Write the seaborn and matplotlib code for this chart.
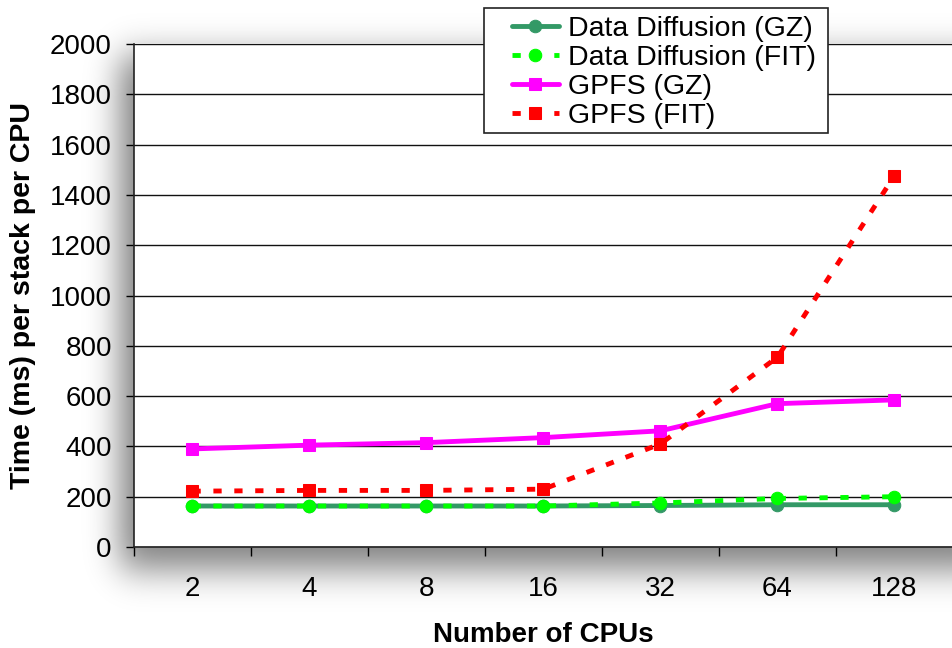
import math
import numpy as np
import pandas as pd
import seaborn as sns
import matplotlib.pyplot as plt
from matplotlib.patches import Rectangle

cpus = ["2", "4", "8", "16", "32", "64", "128"]
dd_gz = [163, 163, 163, 163, 165, 168, 168]
dd_fit = [163, 163, 163, 163, 175, 193, 200]
gpfs_gz = [390, 405, 415, 435, 462, 570, 585]
gpfs_fit = [222, 225, 225, 230, 410, 755, 1477]

sns.set_theme(style="white")
plt.rcParams['font.family'] = ['Liberation Sans', 'DejaVu Sans']
plt.rcParams.update({"text.color": "black", "axes.labelcolor": "black",
                     "xtick.color": "black", "ytick.color": "black"})

df = pd.DataFrame({"pos": np.arange(len(cpus)), "dd_gz": dd_gz, "dd_fit": dd_fit,
                   "gpfs_gz": gpfs_gz, "gpfs_fit": gpfs_fit})

W, H = 953, 648
L, R, T, B = 134, 953, 44, 547
fig = plt.figure(figsize=(W / 100, H / 100), dpi=100)

# soft drop shadow of the plot area (down-left), like the Excel chart
erf = np.vectorize(math.erf)
def soft(coord, lo, hi, s):
    return 0.5 * (erf((coord - lo) / (s * 1.414)) - erf((coord - hi) / (s * 1.414)))
xs = np.arange(W) + 0.5
ys = np.arange(H) + 0.5
sx = soft(xs, L - 14, R + 40, 16)
sy = soft(ys, T + 12, B + 22, 18)
alpha = 0.5 * np.outer(sy, sx)
shadow = np.zeros((H, W, 4))
shadow[..., 3] = alpha
fig.figimage(shadow, 0, 0, origin="upper", zorder=0)

ax = fig.add_axes([L / W, 1 - B / H, (R - L) / W, (B - T) / H])
ax.set_zorder(2)
ax.set_facecolor("white")

sns.lineplot(data=df, x="pos", y="dd_gz", ax=ax, color="#339966", lw=3.5,
             marker="o", ms=9, mec="#339966", label="Data Diffusion (GZ)")
sns.lineplot(data=df, x="pos", y="dd_fit", ax=ax, color="#00ff00", lw=3.5,
             marker="o", ms=9, mec="#00ff00", label="Data Diffusion (FIT)")
sns.lineplot(data=df, x="pos", y="gpfs_gz", ax=ax, color="#ff00ff", lw=3.5,
             marker="s", ms=9, mec="#ff00ff", label="GPFS (GZ)")
sns.lineplot(data=df, x="pos", y="gpfs_fit", ax=ax, color="#ff0000", lw=3.5,
             marker="s", ms=9, mec="#ff0000", label="GPFS (FIT)")
ax.lines[1].set_dashes([1.7, 2.6])
ax.lines[3].set_dashes([1.7, 2.6])

ax.set_xlim(-0.5, len(cpus) - 0.5)
ax.set_ylim(0, 2000)
ax.set_yticks(range(0, 2001, 200))
ax.set_xticks(range(len(cpus)))
ax.set_xticklabels(cpus)
ax.set_xticks(np.arange(-0.5, len(cpus) - 0.5, 1), minor=True)
ax.tick_params(axis="x", which="major", length=0, pad=21, labelsize=20)
ax.tick_params(axis="x", which="minor", length=6.5, width=1, direction="out", bottom=True, color="black")
ax.tick_params(axis="y", length=6, width=1, direction="out", left=True, color="black", labelsize=20, pad=10)
ax.grid(axis="y", color="#111111", lw=1)
ax.set_axisbelow(True)
for s in ["top", "right"]:
    ax.spines[s].set_visible(False)
for s in ["left", "bottom"]:
    ax.spines[s].set_color("#222222")
    ax.spines[s].set_linewidth(1.2)

ax.set_xlabel("Number of CPUs", fontsize=20, fontweight="bold", labelpad=14)
ax.set_ylabel("Time (ms) per stack per CPU", fontsize=20.5, fontweight="bold", labelpad=10)

# legend box (frame drawn separately so its padding matches the original)
box = Rectangle((484 / W, 1 - 133 / H), (828 - 484) / W, (133 - 8) / H, transform=fig.transFigure,
                facecolor="white", edgecolor="#222222", lw=1.2, clip_on=False, zorder=4.5)
ax.add_patch(box)
leg = ax.legend(loc="upper left", bbox_to_anchor=((512 - L) / (R - L), 1 + (T - 16) / (B - T)),
                fontsize=20.5, frameon=False, handlelength=1.65, borderpad=0,
                labelspacing=0.11, handletextpad=0.3, borderaxespad=0)
leg.set_zorder(5)

fig.savefig("out.png", dpi=100)
